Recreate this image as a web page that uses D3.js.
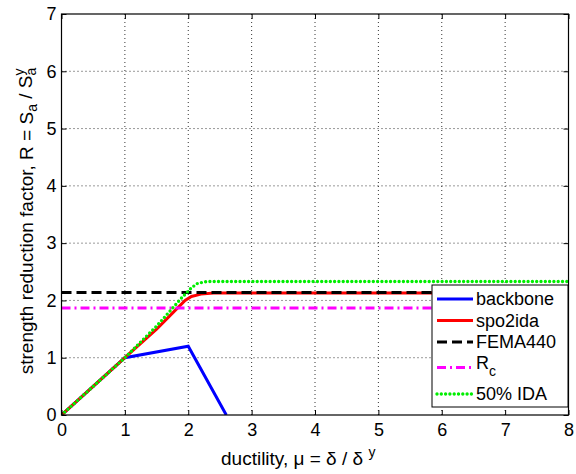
<!DOCTYPE html>
<html>
<head>
<meta charset="utf-8">
<script src="https://cdn.jsdelivr.net/npm/d3@7"></script>
<style>
  body { margin: 0; background: #fff; }
  text { font-family: "Liberation Sans", Arial, sans-serif; fill: #000; }
</style>
</head>
<body>
<div id="g1"></div>
<script>
var xTicks = [0, 1, 2, 3, 4, 5, 6, 7, 8];
var yTicks = [0, 1, 2, 3, 4, 5, 6, 7];

// series as [mu, R] pairs
var backbone = [[0, 0], [1, 1], [2, 1.2], [2.6, 0]];
var spo2ida = [[0, 0], [1, 1], [1.5, 1.5], [1.95, 2.0], [2.05, 2.07], [2.2, 2.11], [2.4, 2.13], [8, 2.13]];
var fema440 = [[0, 2.14], [8, 2.14]];
var rc = [[0, 1.87], [8, 1.87]];
var ida50 = [[0, 0], [1, 1], [1.5, 1.55], [1.9, 2.05], [2.05, 2.22], [2.15, 2.3], [2.3, 2.33], [8, 2.33]];

var width = 576, height = 474;
var pL = 61.5, pR = 568.5, pT = 14, pB = 415;

var svg = d3.select("#g1").append("svg")
  .attr("width", width)
  .attr("height", height);

var x = d3.scaleLinear().domain([0, 8]).range([pL, pR]);
var y = d3.scaleLinear().domain([0, 7]).range([pB, pT]);

// grid
svg.append("g").selectAll("line").data(xTicks.slice(1, -1)).enter().append("line")
  .attr("x1", function(d) { return x(d); }).attr("x2", function(d) { return x(d); })
  .attr("y1", pT).attr("y2", pB)
  .attr("stroke", "#000").attr("stroke-width", 0.8).attr("stroke-dasharray", "1,3");
svg.append("g").selectAll("line").data(yTicks.slice(1, -1)).enter().append("line")
  .attr("y1", function(d) { return y(d); }).attr("y2", function(d) { return y(d); })
  .attr("x1", pL).attr("x2", pR)
  .attr("stroke", "#000").attr("stroke-width", 0.8).attr("stroke-dasharray", "1,3");

var line = d3.line().x(function(d) { return x(d[0]); }).y(function(d) { return y(d[1]); });

var series = [
  { name: "backbone", data: backbone, color: "#0000ff", dash: null, w: 3, cap: "butt" },
  { name: "spo2ida", data: spo2ida, color: "#ff0000", dash: null, w: 3, cap: "butt" },
  { name: "FEMA440", data: fema440, color: "#000000", dash: "10,5", w: 3, cap: "butt" },
  { name: "R", data: rc, color: "#ff00ff", dash: "9,4,2,4", w: 3, cap: "butt" },
  { name: "50% IDA", data: ida50, color: "#00ee00", dash: "0,4.3", w: 3.4, cap: "round" }
];

svg.append("defs").append("clipPath").attr("id", "clip")
  .append("rect").attr("x", pL).attr("y", pT).attr("width", pR - pL).attr("height", pB - pT);

svg.append("g").attr("clip-path", "url(#clip)").selectAll("path").data(series).enter().append("path")
  .attr("d", function(d) { return line(d.data); })
  .attr("fill", "none")
  .attr("stroke", function(d) { return d.color; })
  .attr("stroke-width", function(d) { return d.w; })
  .attr("stroke-linecap", function(d) { return d.cap; })
  .attr("stroke-dasharray", function(d) { return d.dash; });

// axes (MATLAB style: ticks inside on all four sides)
var xb = svg.append("g").attr("transform", "translate(0," + pB + ")")
  .call(d3.axisBottom(x).tickValues(xTicks).tickFormat(d3.format("d")).tickSizeInner(-5).tickSizeOuter(0).tickPadding(8));
var xt = svg.append("g").attr("transform", "translate(0," + pT + ")")
  .call(d3.axisTop(x).tickValues(xTicks).tickSizeInner(-5).tickSizeOuter(0).tickFormat(""));
var yl = svg.append("g").attr("transform", "translate(" + pL + ",0)")
  .call(d3.axisLeft(y).tickValues(yTicks).tickFormat(d3.format("d")).tickSizeInner(-5).tickSizeOuter(0).tickPadding(5));
var yr = svg.append("g").attr("transform", "translate(" + pR + ",0)")
  .call(d3.axisRight(y).tickValues(yTicks).tickSizeInner(-5).tickSizeOuter(0).tickFormat(""));

[xb, xt, yl, yr].forEach(function(g) {
  g.select(".domain").remove();
  g.selectAll("line").attr("stroke-width", 1);
  g.selectAll("text").style("font-size", "18px").attr("font-family", "Liberation Sans, Arial, sans-serif");
});

svg.append("rect").attr("x", pL).attr("y", pT).attr("width", pR - pL).attr("height", pB - pT)
  .attr("fill", "none").attr("stroke", "#000").attr("stroke-width", 1.2);

// legend
var lg = svg.append("g");
lg.append("rect").attr("x", 432).attr("y", 285).attr("width", 136).attr("height", 122)
  .attr("fill", "#fff").attr("stroke", "#000").attr("stroke-width", 1);
var rowsY = [299, 320.5, 342, 365, 394];
var items = lg.selectAll("g.item").data(series).enter().append("g")
  .attr("transform", function(d, i) { return "translate(0," + rowsY[i] + ")"; });
items.append("line").attr("x1", 437).attr("x2", 473)
  .attr("y1", function(d, i) { return i === 3 ? 2.5 : 0; })
  .attr("y2", function(d, i) { return i === 3 ? 2.5 : 0; })
  .attr("stroke", function(d) { return d.color; })
  .attr("stroke-width", function(d) { return d.w; })
  .attr("stroke-linecap", function(d) { return d.cap; })
  .attr("stroke-dasharray", function(d) { return d.dash; });
var lt = items.append("text").attr("x", 476).attr("dy", "0.35em").style("font-size", "18px");
lt.each(function(d, i) {
  var t = d3.select(this);
  if (d.name === "R") {
    t.attr("dy", "0.2em").text("R");
    t.append("tspan").attr("dy", "0.5em").style("font-size", "14px").text("c");
  } else {
    t.text(d.name);
  }
});

// axis labels
var xl = svg.append("text").attr("x", 221).attr("y", 465).style("font-size", "19px");
xl.append("tspan").text("ductility, μ = δ / δ ");
xl.append("tspan").attr("dy", "-0.55em").style("font-size", "14px").text("y");

var ylab = svg.append("text")
  .attr("transform", "translate(33,221) rotate(-90)")
  .attr("text-anchor", "middle").style("font-size", "19px");
ylab.append("tspan").text("strength reduction factor, R = S");
ylab.append("tspan").attr("dy", "0.3em").style("font-size", "14px").text("a");
ylab.append("tspan").attr("dy", "-0.3em").text(" / S");
ylab.append("tspan").attr("dy", "-0.55em").style("font-size", "14px").text("y");
ylab.append("tspan").attr("dx", "-7px").attr("dy", "0.85em").style("font-size", "14px").text("a");
</script>
</body>
</html>
